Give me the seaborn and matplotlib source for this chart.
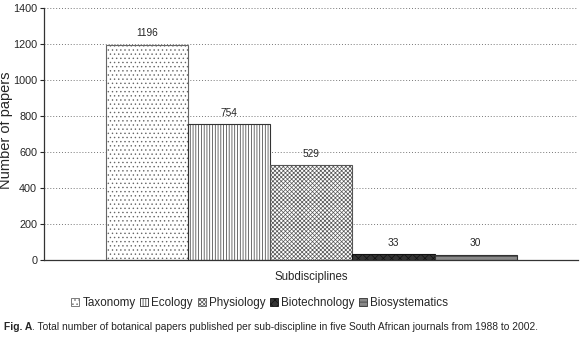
import pandas as pd
import seaborn as sns
from matplotlib import pyplot as plt
from matplotlib.patches import Patch

# data
subdisciplines = ["Taxonomy", "Ecology", "Physiology", "Biotechnology", "Biosystematics"]
papers = [1196, 754, 529, 33, 30]
group = ["Subdisciplines"] * 5

# styles per bar
faces = ["white", "white", "white", "#333333", "#8a8a8a"]
edges = ["#666666", "#333333", "#555555", "#111111", "#333333"]
hatches = ["....", "||||||", "xxxxxxxx", "xxxx", "----"]

sns.set_theme(style="white")
plt.rcParams['font.family'] = ['Liberation Sans', 'DejaVu Sans']
plt.rcParams['hatch.linewidth'] = 0.5

df = pd.DataFrame({"group": group, "sub": subdisciplines, "n": papers})

fig = plt.figure(figsize=(5.8, 3.45), dpi=100)
ax = fig.add_axes([0.076, 0.246, 0.921, 0.731])

sns.barplot(data=df, x="group", y="n", hue="sub", hue_order=subdisciplines,
            width=0.77, gap=0, palette=["white"] * 5, edgecolor="#333333",
            linewidth=0.8, legend=False, ax=ax)

for bar, fc, ec, h, v in zip(ax.patches, faces, edges, hatches, papers):
    bar.set_facecolor(fc)
    bar.set_edgecolor(ec)
    bar.set_hatch(h)
    ax.text(bar.get_x() + bar.get_width() / 2, v + 35, str(v),
            ha="center", va="bottom", fontsize=7.3)

ax.set_ylim(0, 1400)
ax.set_xlim(-0.5, 0.5)
ax.set_yticks(range(0, 1401, 200))
ax.tick_params(axis="y", labelsize=7.8, length=3, width=0.8, pad=2, left=True)
ax.set_xticks([])
ax.yaxis.grid(True, linestyle=(0, (1, 2)), color="#777777", linewidth=0.7)
ax.set_axisbelow(True)
for s in ["top", "right"]:
    ax.spines[s].set_visible(False)
for s in ["left", "bottom"]:
    ax.spines[s].set_color("#333333")
    ax.spines[s].set_linewidth(0.9)
ax.set_ylabel("Number of papers", fontsize=10.5)
ax.yaxis.set_label_coords(-0.058, 0.515)
ax.set_xlabel("Subdisciplines", fontsize=8.3, labelpad=8)

handles = [Patch(facecolor=fc, edgecolor=ec, hatch=h, linewidth=0.6)
           for fc, ec, h in zip(faces, edges, hatches)]
fig.legend(handles, subdisciplines, loc="center", bbox_to_anchor=(0.448, 0.122),
           ncol=5, frameon=False, fontsize=8.4, handlelength=0.7, handleheight=0.7,
           handletextpad=0.25, columnspacing=0.4)

t1 = fig.text(0.007, 0.052, "Fig. A", fontsize=7.4, fontweight="bold", ha="left", va="center")
fig.canvas.draw()
bb = t1.get_window_extent().transformed(fig.transFigure.inverted())
fig.text(bb.x1, 0.052, ". Total number of botanical papers published per sub-discipline in five South African journals from 1988 to 2002.",
         fontsize=7.4, ha="left", va="center")

plt.savefig("out.png", dpi=100)
